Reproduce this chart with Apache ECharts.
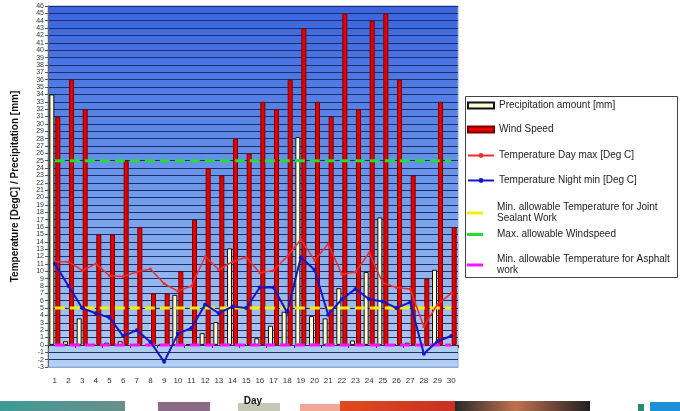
<!DOCTYPE html>
<html>

<head>
    <meta charset="utf-8">
    <script type="text/javascript" src="https://cdn.jsdelivr.net/npm/echarts@6/dist/echarts.min.js"></script>
    <title>Weather chart</title>
    <style>
        body { margin: 0; background: #fff; }
    </style>
</head>

<body>
    <div id="container" style="width:680px;height:411px;"></div>
    <script type="text/javascript">
    // data
    var days = ['1', '2', '3', '4', '5', '6', '7', '8', '9', '10', '11', '12', '13', '14', '15',
        '16', '17', '18', '19', '20', '21', '22', '23', '24', '25', '26', '27', '28', '29', '30'];
    var precipitation = [34, 0.5, 3.6, 0, 0.3, 0.5, 0, 0, 0, 6.8, 0.1, 1.6, 3.1, 13.1, 0,
        0.9, 2.6, 4.5, 28.2, 3.9, 3.6, 7.7, 0.6, 9.9, 17.3, 0, 0.3, 0, 10.2, 0];
    var windSpeed = [31, 36, 32, 15, 15, 25, 16, 7, 7, 10, 17, 24, 23, 28, 26,
        33, 32, 36, 43, 33, 31, 45, 32, 44, 45, 36, 23, 9, 33, 16];
    var tempDayMax = [11.3, 11.3, 10.1, 11, 9.4, 9.3, 9.9, 10.3, 8.3, 7.3, 8, 12, 10.2, 11.3, 11.9,
        9.8, 10.1, 12, 14.3, 11.5, 13.7, 9.6, 9.9, 12.5, 8.4, 7.8, 7.6, 2.5, 5.5, 7];
    var tempNightMin = [11, 8, 5, 4.3, 3.7, 1.2, 2, 0.4, -2.3, 1.5, 2.3, 5.5, 4.3, 5.2, 5,
        7.8, 7.8, 4.4, 11.9, 10.2, 4.1, 6.2, 7.6, 6.2, 5.9, 5, 5.8, -1.2, 0.5, 1.2];
    var jointSealantMin = 5;
    var windMax = 25;
    var asphaltMin = 0;

    function constant(v) {
        return days.map(function () { return v; });
    }

    var names = {
        precip: 'Precipitation amount [mm]',
        wind: 'Wind Speed',
        tmax: 'Temperature Day max [Deg C]',
        tmin: 'Temperature Night min [Deg C]',
        joint: 'Min. allowable Temperature for Joint\nSealant Work',
        windMax: 'Max. allowable Windspeed',
        asphalt: 'Min. allowable Temperature for Asphalt\nwork'
    };

    var myChart = echarts.init(document.getElementById('container'));

    // one small legend per entry so each line sits where it does in the picture
    // kind: 'bar', 'line' or 'limit'
    function legendAt(name, top, kind) {
        var leg = {
            data: [name],
            left: 467,
            top: top,
            orient: 'vertical',
            padding: 0,
            itemWidth: kind === 'limit' ? 16 : 26,
            itemHeight: kind === 'limit' ? 3 : 6,
            selectedMode: false,
            lineStyle: { type: 'solid', width: 2 },
            textStyle: {
                fontFamily: 'Liberation Sans',
                fontSize: 10,
                lineHeight: 11,
                color: '#222',
                padding: [0, 0, 0, kind === 'limit' ? 9 : 0]
            }
        };
        if (kind !== 'line') {
            leg.icon = 'rect';
        }
        return leg;
    }

    var option = {
        backgroundColor: '#fff',
        animation: false,
        grid: {
            left: 48,
            top: 6,
            width: 410,
            height: 362,
            show: true,
            backgroundColor: new echarts.graphic.LinearGradient(0, 0, 0, 1, [
                { offset: 0, color: '#3a64de' },
                { offset: 0.5, color: '#6c98ea' },
                { offset: 0.92, color: '#a8c7f0' },
                { offset: 1, color: '#b6d2f3' }
            ]),
            borderColor: '#8aa8d8',
            borderWidth: 1
        },
        legend: [
            legendAt(names.precip, 100, 'bar'),
            legendAt(names.wind, 124, 'bar'),
            legendAt(names.tmax, 150, 'line'),
            legendAt(names.tmin, 175, 'line'),
            legendAt(names.joint, 202, 'limit'),
            legendAt(names.windMax, 229, 'limit'),
            legendAt(names.asphalt, 254, 'limit')
        ],
        xAxis: [{
            type: 'category',
            data: days,
            position: 'bottom',
            name: 'Day',
            nameLocation: 'middle',
            nameGap: 29,
            nameTextStyle: { fontFamily: 'Liberation Sans', fontSize: 10, fontWeight: 'bold', color: '#111' },
            axisLine: { onZero: false, lineStyle: { color: '#8aa8d8' } },
            axisTick: { show: false },
            axisLabel: { fontFamily: 'Liberation Sans', fontSize: 8, color: '#333', margin: 10, interval: 0 },
            splitLine: { show: false }
        }, {
            // axis at zero, only for its tick marks
            type: 'category',
            data: days,
            position: 'bottom',
            axisLine: { onZero: true, lineStyle: { color: '#333' } },
            axisTick: { show: true, length: 3, lineStyle: { color: '#333' } },
            axisLabel: { show: false }
        }],
        yAxis: {
            type: 'value',
            min: -3,
            max: 46,
            interval: 1,
            name: 'Temperature [DegC] / Precipitation [mm]',
            nameLocation: 'middle',
            nameGap: 28,
            nameTextStyle: { fontFamily: 'Liberation Sans', fontSize: 10, fontWeight: 'bold', color: '#111' },
            axisLine: { show: true, lineStyle: { color: '#666' } },
            axisTick: { show: true, length: 3, lineStyle: { color: '#555' } },
            axisLabel: { fontFamily: 'Liberation Sans', fontSize: 7, color: '#333', margin: 4 },
            splitLine: { show: true, lineStyle: { color: '#1f2c6e', width: 1 } }
        },
        series: [{
            name: names.precip,
            type: 'bar',
            data: precipitation,
            barWidth: 5,
            barGap: '20%',
            itemStyle: { color: '#fffbd6', borderColor: '#111', borderWidth: 1 }
        }, {
            name: names.wind,
            type: 'bar',
            data: windSpeed,
            barWidth: 5,
            itemStyle: { color: '#e60000', borderColor: '#7a0000', borderWidth: 1 }
        }, {
            name: names.tmax,
            type: 'line',
            data: tempDayMax,
            symbol: 'circle',
            symbolSize: 3,
            z: 5,
            lineStyle: { color: '#e83030', width: 1.5 },
            itemStyle: { color: '#e83030' }
        }, {
            name: names.tmin,
            type: 'line',
            data: tempNightMin,
            symbol: 'circle',
            symbolSize: 4,
            z: 5,
            lineStyle: { color: '#1616c4', width: 2 },
            itemStyle: { color: '#1616c4' }
        }, {
            name: names.joint,
            type: 'line',
            data: constant(jointSealantMin),
            symbol: 'none',
            z: 4,
            lineStyle: { color: '#f2f000', width: 3, type: [10, 5] },
            itemStyle: { color: '#f2f000' }
        }, {
            name: names.windMax,
            type: 'line',
            data: constant(windMax),
            symbol: 'none',
            z: 4,
            lineStyle: { color: '#22e030', width: 3, type: [10, 5] },
            itemStyle: { color: '#22e030' }
        }, {
            name: names.asphalt,
            type: 'line',
            data: constant(asphaltMin),
            symbol: 'none',
            z: 4,
            lineStyle: { color: '#ff10ff', width: 3, type: [10, 5] },
            itemStyle: { color: '#ff10ff' }
        }],
        graphic: [{
            // legend frame
            type: 'rect',
            shape: { x: 465.5, y: 96.5, width: 212, height: 181 },
            style: { fill: '#fff', stroke: '#444', lineWidth: 1 },
            z: -1
        },
        // blurred photo strip at the bottom of the picture
        { type: 'rect', shape: { x: 0, y: 401, width: 125, height: 10 }, style: { fill: new echarts.graphic.LinearGradient(0, 0, 1, 0, [{ offset: 0, color: '#3d9a98' }, { offset: 1, color: '#6c8e8a' }]) }, z: -1 },
        { type: 'rect', shape: { x: 158, y: 402, width: 52, height: 9 }, style: { fill: '#8a6a84' }, z: -1 },
        { type: 'rect', shape: { x: 238, y: 403, width: 42, height: 8 }, style: { fill: '#c4c8b4' }, z: -1 },
        { type: 'rect', shape: { x: 300, y: 404, width: 40, height: 7 }, style: { fill: '#f0a898' }, z: -1 },
        { type: 'rect', shape: { x: 340, y: 401, width: 115, height: 10 }, style: { fill: new echarts.graphic.LinearGradient(0, 0, 1, 0, [{ offset: 0, color: '#e04a20' }, { offset: 1, color: '#c83020' }]) }, z: -1 },
        { type: 'rect', shape: { x: 455, y: 401, width: 135, height: 10 }, style: { fill: new echarts.graphic.LinearGradient(0, 0, 1, 0, [{ offset: 0, color: '#2a2a2a' }, { offset: 0.45, color: '#c07050' }, { offset: 1, color: '#202020' }]) }, z: -1 },
        { type: 'rect', shape: { x: 638, y: 404, width: 6, height: 7 }, style: { fill: '#2a8a70' }, z: -1 },
        { type: 'rect', shape: { x: 650, y: 402, width: 30, height: 9 }, style: { fill: '#1e90d8' }, z: -1 }]
    };

    myChart.setOption(option);
    </script>
</body>

</html>
